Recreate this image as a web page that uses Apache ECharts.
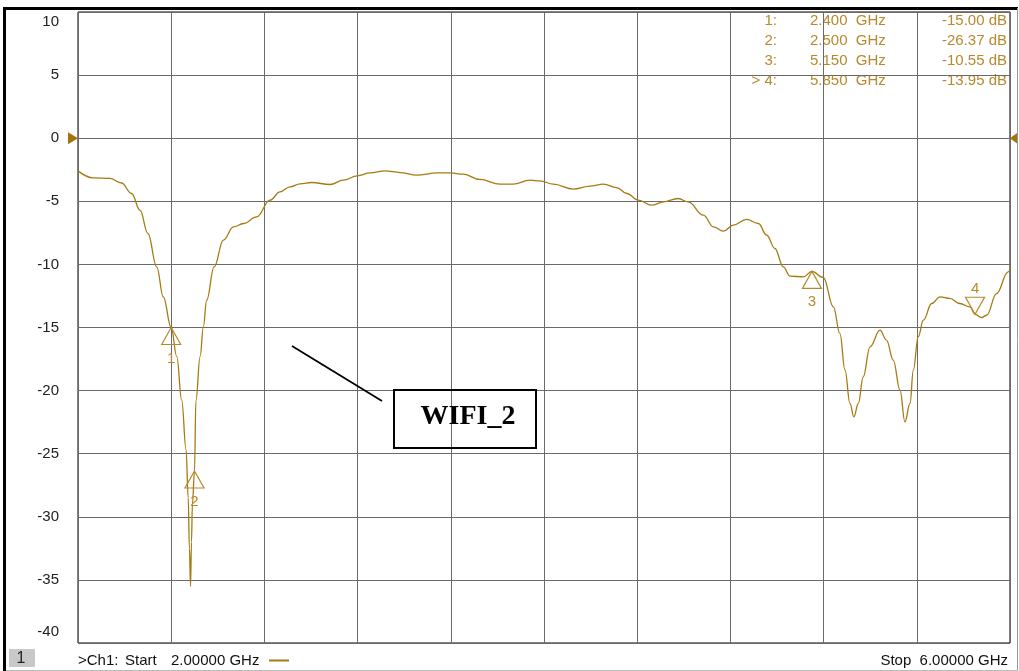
<!DOCTYPE html>
<html><head><meta charset="utf-8">
<script src="https://cdn.jsdelivr.net/npm/echarts/dist/echarts.min.js"></script>
<style>html,body{margin:0;padding:0;background:#fff}#c{width:1019px;height:671px}</style>
</head><body><div id="c"></div>
<script>
// ---- data ----
const freqGHz = [2.000,2.066,2.137,2.187,2.230,2.266,2.300,2.338,2.366,2.400,2.424,2.445,2.464,2.473,2.478,2.483,2.487,2.491,2.500,2.506,2.524,2.538,2.552,2.584,2.624,2.667,2.710,2.767,2.824,2.867,2.910,2.953,3.003,3.082,3.139,3.199,3.253,3.318,3.382,3.454,3.540,3.597,3.654,3.725,3.811,3.868,3.940,3.983,4.040,4.126,4.197,4.255,4.312,4.355,4.405,4.462,4.512,4.576,4.619,4.684,4.727,4.770,4.812,4.870,4.920,4.956,4.991,5.027,5.056,5.113,5.150,5.199,5.242,5.270,5.292,5.313,5.330,5.349,5.370,5.399,5.442,5.470,5.499,5.528,5.549,5.571,5.585,5.606,5.628,5.664,5.700,5.742,5.785,5.828,5.850,5.878,5.900,5.942,5.992,6.000];
const s11dB = [-2.59,-3.15,-3.19,-3.55,-4.38,-5.70,-7.55,-10.20,-12.57,-15.00,-17.30,-20.76,-24.70,-28.50,-32.50,-35.50,-32.00,-29.00,-26.37,-20.80,-17.30,-14.95,-12.84,-10.20,-8.08,-7.03,-6.76,-6.23,-4.91,-4.25,-3.85,-3.62,-3.51,-3.67,-3.33,-2.98,-2.75,-2.59,-2.72,-2.93,-2.75,-2.75,-2.85,-3.27,-3.64,-3.64,-3.33,-3.38,-3.64,-4.04,-3.80,-3.64,-3.91,-4.38,-4.91,-5.31,-5.05,-4.78,-5.05,-6.10,-7.03,-7.37,-6.89,-6.44,-6.76,-7.69,-8.74,-10.20,-10.93,-10.99,-10.55,-11.04,-13.37,-15.48,-18.38,-21.02,-22.08,-21.02,-18.91,-16.54,-15.21,-16.00,-17.59,-19.97,-22.48,-21.02,-18.38,-15.74,-14.42,-13.10,-12.57,-12.70,-13.10,-13.37,-13.95,-14.21,-14.03,-12.31,-10.59,-10.45];
const markerIds = ['1','2','3','4'];
const markerFreq = [2.400, 2.500, 5.150, 5.850];
const markerDb = [-15.00, -26.37, -10.55, -13.95];
const markerDir = ['up','up','up','down'];
const activeMarker = '4';
const refLevel = 0;
const startGHz = 2, stopGHz = 6, freqStep = 0.4;
const yMin = -40, yMax = 10, yStep = 5;
const annotationText = 'WIFI_2';

const TRACE = '#a67a12';
const MARK = '#b8892c';
const FONT = '"Liberation Sans", Arial, sans-serif';

const chart = echarts.init(document.getElementById('c'), null, {renderer: 'canvas'});

const traceData = freqGHz.map((f, i) => [f, s11dB[i]]);
const markerData = markerFreq.map((f, i) => [f, markerDb[i], markerIds[i], markerDir[i]]);

// marker table text
const tableGraphics = [];
markerIds.forEach((id, i) => {
  const y = 21 + i * 20;
  tableGraphics.push(
    {type: 'text', x: 777, y: y, style: {text: (id === activeMarker ? '> ' : '') + id + ':', fill: MARK, font: '15px ' + FONT, align: 'right', verticalAlign: 'middle'}},
    {type: 'text', x: 810, y: y, style: {text: markerFreq[i].toFixed(3) + '  GHz', fill: MARK, font: '15px ' + FONT, align: 'left', verticalAlign: 'middle'}},
    {type: 'text', x: 1007, y: y, style: {text: markerDb[i].toFixed(2) + ' dB', fill: MARK, font: '15px ' + FONT, align: 'right', verticalAlign: 'middle'}}
  );
});

const option = {
  animation: false,
  backgroundColor: '#fff',
  grid: {left: 78, top: 12, right: 9, bottom: 28, show: true, borderColor: '#000', borderWidth: 1, backgroundColor: 'transparent'},
  xAxis: {
    type: 'value', min: startGHz, max: stopGHz, interval: freqStep,
    axisLine: {show: false}, axisTick: {show: false}, axisLabel: {show: false},
    splitLine: {show: true, lineStyle: {color: '#6a6a6a', width: 1}}
  },
  yAxis: {
    type: 'value', min: yMin, max: yMax, interval: yStep,
    axisLine: {show: false}, axisTick: {show: false},
    splitLine: {show: true, lineStyle: {color: '#6a6a6a', width: 1}},
    axisLabel: {
      margin: 19, color: '#222', fontSize: 15, fontFamily: FONT,
      formatter: v => v === yMax ? '{t|' + v + '}' : (v === yMin ? '{b|' + v + '}' : '{n|' + v + '}'),
      rich: {
        t: {fontSize: 15, fontFamily: FONT, color: '#222', padding: [19, 0, 0, 0]},
        b: {fontSize: 15, fontFamily: FONT, color: '#222', padding: [0, 0, 22, 0]},
        n: {fontSize: 15, fontFamily: FONT, color: '#222'}
      }
    }
  },
  series: [
    {
      type: 'line', data: traceData, showSymbol: false, smooth: 0.4, smoothMonotone: 'x',
      lineStyle: {color: TRACE, width: 1.3}, z: 3, silent: true
    },
    {
      type: 'custom', data: markerData, clip: false, z: 4, silent: true,
      renderItem: (params, api) => {
        const p = api.coord([api.value(0), api.value(1)]);
        const dir = markerDir[params.dataIndex];
        const id = markerIds[params.dataIndex];
        const w = 9.5, h = 17;
        const sgn = dir === 'up' ? 1 : -1;
        return {
          type: 'group',
          children: [
            {type: 'polygon', shape: {points: [[p[0], p[1]], [p[0] - w, p[1] + sgn * h], [p[0] + w, p[1] + sgn * h]]},
             style: {fill: 'none', stroke: MARK, lineWidth: 1.2}},
            {type: 'text', style: {text: id, x: p[0], y: p[1] + (dir === 'up' ? 31 : -25), fill: MARK, font: '15px ' + FONT, align: 'center', verticalAlign: 'middle'}}
          ]
        };
      }
    },
    {
      type: 'custom', data: [[startGHz, refLevel, 'r'], [stopGHz, refLevel, 'l']], clip: false, z: 5, silent: true,
      renderItem: (params, api) => {
        const p = api.coord([api.value(0), api.value(1)]);
        const pts = params.dataIndex === 0
          ? [[p[0] - 10, p[1] - 6], [p[0], p[1]], [p[0] - 10, p[1] + 6]]
          : [[p[0] + 8, p[1] - 6], [p[0], p[1]], [p[0] + 8, p[1] + 6]];
        return {type: 'polygon', shape: {points: pts}, style: {fill: '#a5730c', stroke: 'none'}};
      }
    }
  ],
  graphic: [
    // outer frame
    {type: 'rect', shape: {x: 3, y: 7, width: 3, height: 664}, style: {fill: '#000'}, z: 10},
    {type: 'rect', shape: {x: 3, y: 7, width: 1015, height: 3}, style: {fill: '#000'}, z: 10},
    {type: 'line', shape: {x1: 1017.5, y1: 8, x2: 1017.5, y2: 671}, style: {stroke: '#999', lineWidth: 1}, z: 10},
    {type: 'line', shape: {x1: 6, y1: 670.5, x2: 1018, y2: 670.5}, style: {stroke: '#bbb', lineWidth: 1}, z: 10},
    // bottom status bar
    {type: 'rect', shape: {x: 9, y: 649, width: 26, height: 18}, style: {fill: '#c8c8c8'}, z: 10},
    {type: 'text', x: 21, y: 659, style: {text: '1', fill: '#222', font: '16px ' + FONT, align: 'center', verticalAlign: 'middle'}, z: 11},
    {type: 'text', x: 78, y: 661, style: {text: '>Ch1:', fill: '#111', font: '15px ' + FONT, align: 'left', verticalAlign: 'middle'}, z: 11},
    {type: 'text', x: 125, y: 661, style: {text: 'Start', fill: '#111', font: '15px ' + FONT, align: 'left', verticalAlign: 'middle'}, z: 11},
    {type: 'text', x: 171, y: 661, style: {text: '2.00000 GHz', fill: '#111', font: '15px ' + FONT, align: 'left', verticalAlign: 'middle'}, z: 11},
    {type: 'line', shape: {x1: 269, y1: 660.5, x2: 289, y2: 660.5}, style: {stroke: TRACE, lineWidth: 2}, z: 11},
    {type: 'text', x: 1008, y: 661, style: {text: 'Stop  6.00000 GHz', fill: '#111', font: '15px ' + FONT, align: 'right', verticalAlign: 'middle'}, z: 11},
    // annotation
    {type: 'line', shape: {x1: 292, y1: 346, x2: 382, y2: 401}, style: {stroke: '#000', lineWidth: 1.8}, z: 12},
    {type: 'rect', shape: {x: 394, y: 390, width: 142, height: 58}, style: {fill: 'transparent', stroke: '#000', lineWidth: 2}, z: 12},
    {type: 'text', x: 468, y: 417, style: {text: annotationText, fill: '#000', font: 'bold 28px "Liberation Serif", "Times New Roman", serif', align: 'center', verticalAlign: 'middle'}, z: 12}
  ].concat(tableGraphics)
};
chart.setOption(option);
</script>
</body></html>
